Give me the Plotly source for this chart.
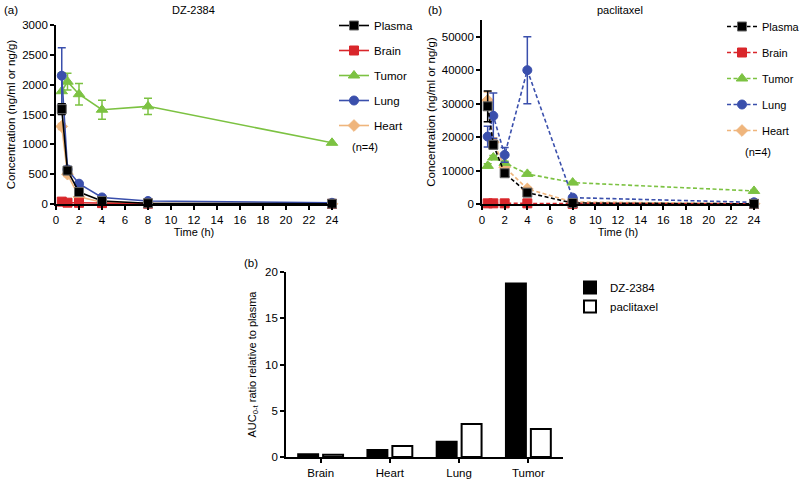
import plotly.graph_objects as go

# ---------------- data ----------------
times = [0.5, 1, 2, 4, 8, 24]
tissues = ["Plasma", "Brain", "Tumor", "Lung", "Heart"]

dz_plasma = [1590, 560, 200, 50, 12, 5]
dz_brain = [40, 22, 20, 15, 5, 2]
dz_tumor = [1890, 2050, 1840, 1580, 1637, 1025]
dz_lung = [2150, 580, 340, 110, 50, 20]
dz_heart = [1300, 500, 120, 30, 10, 3]

dz_plasma_err = [90, 40, 30, 10, 5, 2]
dz_brain_err = [10, 5, 5, 3, 2, 1]
dz_tumor_err = [310, 140, 180, 160, 135, 0]
dz_lung_err = [470, 50, 30, 15, 5, 3]
dz_heart_err = [50, 40, 20, 5, 3, 1]

px_plasma = [29200, 17700, 9200, 3400, 300, 50]
px_brain = [200, 200, 200, 200, 50, 20]
px_tumor = [11400, 13900, 12300, 9000, 6400, 3900]
px_lung = [20150, 26350, 14670, 40000, 1900, 500]
px_heart = [31000, 18500, 11000, 4500, 600, 100]

px_plasma_err = [4600, 1200, 800, 500, 100, 20]
px_brain_err = [50, 50, 50, 50, 20, 10]
px_tumor_err = [600, 600, 500, 400, 300, 200]
px_lung_err = [3100, 6800, 2200, 10000, 300, 100]
px_heart_err = [2500, 1300, 900, 500, 100, 30]

bar_cats = ["Brain", "Heart", "Lung", "Tumor"]
auc_dz = [0.29, 0.76, 1.66, 18.75]
auc_px = [0.25, 1.19, 3.57, 3.02]

colors = {"Plasma": "#000000", "Brain": "#d9262b", "Tumor": "#7cc242",
          "Lung": "#3a4fac", "Heart": "#efb57c"}
symbols = {"Plasma": "square", "Brain": "square", "Tumor": "triangle-up",
           "Lung": "circle", "Heart": "diamond"}

FONT = "Liberation Sans, Arial, Helvetica, sans-serif"
W, H = 800, 482

fig = go.Figure()

dz = {"Plasma": (dz_plasma, dz_plasma_err), "Brain": (dz_brain, dz_brain_err),
      "Tumor": (dz_tumor, dz_tumor_err), "Lung": (dz_lung, dz_lung_err),
      "Heart": (dz_heart, dz_heart_err)}
px = {"Plasma": (px_plasma, px_plasma_err), "Brain": (px_brain, px_brain_err),
      "Tumor": (px_tumor, px_tumor_err), "Lung": (px_lung, px_lung_err),
      "Heart": (px_heart, px_heart_err)}

draw_order = ["Heart", "Brain", "Tumor", "Lung", "Plasma"]
legend_order = {"Plasma": 1, "Brain": 2, "Tumor": 3, "Lung": 4, "Heart": 5}

for panel, data, xa, ya, dash, leg in [(1, dz, "x", "y", "solid", "legend"),
                                       (2, px, "x2", "y2", "4px,2.5px", "legend2")]:
    for name in draw_order:
        vals, errs = data[name]
        c = colors[name]
        fig.add_trace(go.Scatter(
            x=times, y=vals, name=name, mode="lines+markers",
            xaxis=xa, yaxis=ya, legend=leg, legendrank=legend_order[name],
            legendgroup=f"{panel}{name}",
            line=dict(color=c, width=1.6, dash=dash),
            marker=dict(symbol=symbols[name], color=c, size=9 if name != "Tumor" else 10,
                        line=dict(color=("#666666" if name == "Plasma" else c), width=1)),
            error_y=dict(type="data", array=errs, visible=True, color=c,
                         thickness=1.5, width=4),
            cliponaxis=False,
        ))

fig.add_trace(go.Bar(x=bar_cats, y=auc_dz, name="DZ-2384", xaxis="x3", yaxis="y3",
                     legend="legend3", marker=dict(color="black", line=dict(color="black", width=2))))
fig.add_trace(go.Bar(x=bar_cats, y=auc_px, name="paclitaxel", xaxis="x3", yaxis="y3",
                     legend="legend3", marker=dict(color="white", line=dict(color="black", width=2))))

def px2x(p):
    return p / W

def px2y(p):
    return 1 - p / H

axis_common = dict(showline=True, linecolor="black", linewidth=1.8, ticks="outside",
                   tickwidth=1.5, ticklen=4, tickcolor="black", showgrid=False,
                   zeroline=False, automargin=False, tickfont=dict(size=11.5, color="black"))

fig.update_layout(
    width=W, height=H, margin=dict(l=0, r=0, t=0, b=0, autoexpand=False),
    paper_bgcolor="white", plot_bgcolor="white",
    font=dict(family=FONT, color="black", size=11),
    barmode="group", bargap=0.28, bargroupgap=0.2,
    xaxis=dict(domain=[px2x(56), px2x(332)], range=[0, 24], dtick=2, anchor="y",
               title=dict(text="Time (h)", font=dict(size=11), standoff=4), **axis_common),
    yaxis=dict(domain=[px2y(204), px2y(25)], range=[0, 3000], dtick=500, anchor="x",
               tickformat="d",
               title=dict(text="Concentration (ng/ml or ng/g)", font=dict(size=11.5), standoff=4),
               **axis_common),
    xaxis2=dict(domain=[px2x(482), px2x(754)], range=[0, 24], dtick=2, anchor="y2",
                title=dict(text="Time (h)", font=dict(size=11), standoff=4), **axis_common),
    yaxis2=dict(domain=[px2y(204), px2y(20)], range=[0, 55000], dtick=10000, anchor="x2",
                tickformat="d",
                title=dict(text="Concentration (ng/ml or ng/g)", font=dict(size=11.5), standoff=4),
                **axis_common),
    xaxis3=dict(domain=[px2x(286), px2x(563)], range=[-0.5, 3.5], anchor="y3",
                **axis_common),
    yaxis3=dict(domain=[px2y(457), px2y(272)], range=[0, 20], dtick=5, anchor="x3",
                title=dict(text="AUC<sub>0-t</sub> ratio relative to plasma",
                           font=dict(size=11), standoff=6),
                **axis_common),
    legend=dict(x=px2x(334), y=px2y(11), xanchor="left", yanchor="top",
                bgcolor="rgba(0,0,0,0)", font=dict(size=11.5), tracegroupgap=6,
                itemwidth=30, traceorder="grouped"),
    legend2=dict(x=px2x(722), y=px2y(12), xanchor="left", yanchor="top",
                 bgcolor="rgba(0,0,0,0)", font=dict(size=11), tracegroupgap=7,
                 itemwidth=30, traceorder="grouped"),
    legend3=dict(x=px2x(570), y=px2y(273), xanchor="left", yanchor="top",
                 bgcolor="rgba(0,0,0,0)", font=dict(size=11.5), itemwidth=30,
                 traceorder="normal", tracegroupgap=2),
)

annos = [
    ("(a)", 2, 10, "left", 11.5),
    ("DZ-2384", 193, 10, "center", 11),
    ("(b)", 426, 10, "left", 11.5),
    ("paclitaxel", 620, 10, "center", 11),
    ("(n=4)", 350, 147, "left", 11),
    ("(n=4)", 743, 152, "left", 11),
    ("(b)", 242, 263, "left", 11.5),
]
for text, x, y, anchor, size in annos:
    fig.add_annotation(text=text, x=px2x(x), y=px2y(y), xref="paper", yref="paper",
                       xanchor=anchor, yanchor="middle", showarrow=False,
                       font=dict(size=size, color="black"))

fig.write_html("out.html", config={"displayModeBar": False},
               post_script="document.body.style.margin='0';document.body.style.overflow='hidden';")
